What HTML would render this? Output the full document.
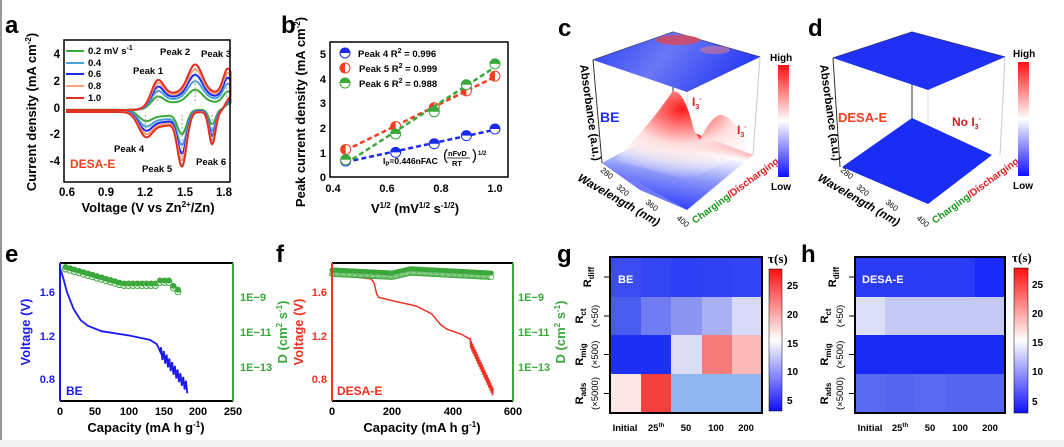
<!DOCTYPE html>
<html><head><meta charset="utf-8"><style>
html,body{margin:0;padding:0;background:#fff;}
svg{display:block;font-family:"Liberation Sans",Arial,sans-serif;font-weight:bold;}
</style></head><body>
<svg id="s" width="1064" height="447" viewBox="0 0 1064 447" xmlns="http://www.w3.org/2000/svg">
<defs>
<linearGradient id="cb" x1="0" y1="1" x2="0" y2="0"><stop offset="0" stop-color="#1010ff"/><stop offset="0.5" stop-color="#ffffff"/><stop offset="1" stop-color="#ff1010"/></linearGradient>
<linearGradient id="tc" x1="0" y1="0" x2="1" y2="0.3"><stop offset="0" stop-color="#2a3cf5"/><stop offset="0.5" stop-color="#6a78f5"/><stop offset="1" stop-color="#2a3cf5"/></linearGradient>
<linearGradient id="bc" x1="0" y1="1" x2="0.3" y2="0"><stop offset="0" stop-color="#0a1cff"/><stop offset="0.5" stop-color="#8a96f8"/><stop offset="0.8" stop-color="#fff"/><stop offset="1" stop-color="#ff2020"/></linearGradient>
<radialGradient id="pk" cx="0.5" cy="0.2" r="0.8"><stop offset="0" stop-color="#ff1a1a"/><stop offset="0.5" stop-color="#ffdede"/><stop offset="1" stop-color="#ffffff" stop-opacity="0"/></radialGradient>
</defs>
<rect x="0" y="0" width="1064" height="447" fill="#fff"/>
<rect x="0" y="0" width="2" height="447" fill="#999"/>
<rect x="0" y="440" width="1064" height="7" fill="#f2f2f2"/>
<g font-size="24" fill="#000"><text x="5" y="33">a</text><text x="281" y="33">b</text><text x="558" y="36">c</text><text x="808" y="36">d</text><text x="5" y="262">e</text><text x="276" y="262">f</text><text x="557" y="262">g</text><text x="801" y="262">h</text></g>
<g id="dyn"></g>

<!-- panel a axes -->
<rect x="64" y="40" width="166" height="142" fill="none" stroke="#000" stroke-width="1.5"/>
<g font-size="11.5" text-anchor="end"><text x="60" y="58">4</text><text x="60" y="85">2</text><text x="60" y="112">0</text><text x="60" y="138">-2</text><text x="60" y="165">-4</text></g>
<g font-size="11.5" text-anchor="middle"><text x="67" y="196">0.6</text><text x="106" y="196">0.9</text><text x="145" y="196">1.2</text><text x="185" y="196">1.5</text><text x="224" y="196">1.8</text></g>
<text x="148" y="212" font-size="13" text-anchor="middle">Voltage (V vs Zn<tspan dy="-5" font-size="8">2+</tspan><tspan dy="5">/Zn)</tspan></text>
<text transform="translate(36,112) rotate(-90)" font-size="13" text-anchor="middle">Current density (mA cm<tspan dy="-5" font-size="8">-2</tspan><tspan dy="5">)</tspan></text>
<g font-size="9.5">
<line x1="66" y1="51" x2="84" y2="51" stroke="#3aa83a" stroke-width="2"/><text x="88" y="54">0.2 mV s<tspan dy="-4" font-size="7">-1</tspan></text>
<line x1="66" y1="63" x2="84" y2="63" stroke="#4aa0d8" stroke-width="2"/><text x="88" y="66">0.4</text>
<line x1="66" y1="74" x2="84" y2="74" stroke="#1a2aee" stroke-width="2"/><text x="88" y="77">0.6</text>
<line x1="66" y1="86" x2="84" y2="86" stroke="#f8a080" stroke-width="2"/><text x="88" y="89">0.8</text>
<line x1="66" y1="98" x2="84" y2="98" stroke="#e03020" stroke-width="2"/><text x="88" y="101">1.0</text>
<text x="133" y="74">Peak 1</text><text x="160" y="55">Peak 2</text><text x="201" y="57">Peak 3</text>
<text x="114" y="152">Peak 4</text><text x="142" y="172">Peak 5</text><text x="196" y="165">Peak 6</text>
</g>
<text x="70" y="168" font-size="12" fill="#f04020">DESA-E</text>

<!-- panel b axes -->
<rect x="330" y="42" width="178" height="135" fill="none" stroke="#000" stroke-width="1.5"/>
<g font-size="11" text-anchor="end"><text x="326" y="58">5</text><text x="326" y="83">4</text><text x="326" y="107">3</text><text x="326" y="132">2</text><text x="326" y="157">1</text><text x="326" y="181">0</text></g>
<g font-size="11" text-anchor="middle"><text x="333" y="192">0.4</text><text x="387" y="192">0.6</text><text x="441" y="192">0.8</text><text x="495" y="192">1.0</text></g>
<text x="415" y="213" font-size="13" text-anchor="middle">V<tspan dy="-5" font-size="8">1/2</tspan><tspan dy="5"> (mV</tspan><tspan dy="-5" font-size="8">1/2</tspan><tspan dy="5"> s</tspan><tspan dy="-5" font-size="8">-1/2</tspan><tspan dy="5">)</tspan></text>
<text transform="translate(305,112) rotate(-90)" font-size="13" text-anchor="middle">Peak current density (mA cm<tspan dy="-5" font-size="8">-2</tspan><tspan dy="5">)</tspan></text>
<g font-size="9.5">
<text x="358" y="57">Peak 4  R<tspan dy="-4" font-size="7">2</tspan><tspan dy="4"> = 0.996</tspan></text>
<text x="359" y="72">Peak 5  R<tspan dy="-4" font-size="7">2</tspan><tspan dy="4"> = 0.999</tspan></text>
<text x="359" y="87">Peak 6  R<tspan dy="-4" font-size="7">2</tspan><tspan dy="4"> = 0.988</tspan></text>
<text x="383" y="164" font-size="8.5">I<tspan font-size="6" dy="2">P</tspan><tspan dy="-2">=0.446nFAC</tspan></text>
<text x="443" y="160" font-size="15" font-weight="normal">(</text><text x="472" y="160" font-size="15" font-weight="normal">)</text>
<text x="448" y="156" font-size="7.5">nFvD</text><line x1="447" y1="158" x2="470" y2="158" stroke="#000" stroke-width="0.8"/><text x="452" y="166" font-size="7.5">RT</text>
<text x="478" y="155" font-size="6">1/2</text>
</g>

<!-- panel c -->
<g>
<polyline points="593,60 673,32 760,57" fill="none" stroke="#333"/>
<line x1="593" y1="60" x2="602" y2="163" stroke="#333"/><line x1="673" y1="32" x2="673" y2="130" stroke="#333"/><line x1="760" y1="57" x2="753" y2="155" stroke="#ccc"/><line x1="687" y1="92" x2="687" y2="210" stroke="#ddd"/>
<polygon points="593,60 673,32 760,57 687,92" fill="url(#tc)"/>
<ellipse cx="678" cy="40" rx="22" ry="5" fill="#f04040" opacity="0.7"/><ellipse cx="715" cy="50" rx="15" ry="4" fill="#f08080" opacity="0.5"/>
<polygon points="602,163 673,125 753,155 687,210" fill="url(#bc)"/>
<path d="M622,152 C640,135 660,110 672,92 C680,88 688,105 694,130 L700,140 C705,128 715,113 722,115 C735,118 745,140 750,153 L687,180 L615,160 Z" fill="url(#pk)"/>
<polygon points="602,163 687,210 640,190" fill="#1020ff" opacity="0.6"/>
<text x="600" y="122" font-size="14" fill="#2030f0">BE</text>
<text x="692" y="106" font-size="12" fill="#e02020">I<tspan font-size="7" dy="3">3</tspan><tspan font-size="7" dy="-8">-</tspan></text>
<text x="737" y="134" font-size="12" fill="#e02020">I<tspan font-size="7" dy="3">3</tspan><tspan font-size="7" dy="-8">-</tspan></text>
<text transform="translate(580,65) rotate(82)" font-size="11.5">Absorbance (a.u.)</text>
<text transform="translate(577,180) rotate(30)" font-size="11.5" font-style="italic">Wavelength (nm)</text>
<g font-size="8" font-weight="normal"><text transform="translate(600,171) rotate(40)">280</text><text transform="translate(616,188) rotate(40)">320</text><text transform="translate(645,203) rotate(40)">360</text><text transform="translate(676,219) rotate(40)">400</text></g>
<text transform="translate(695,224) rotate(-36)" font-size="10"><tspan fill="#1a9a1a">Charging</tspan><tspan fill="#e02020">/Discharging</tspan></text>
<rect x="778" y="65" width="11" height="112" fill="url(#cb)"/>
<text x="770" y="61" font-size="10">High</text><text x="771" y="190" font-size="10">Low</text>
</g>
<!-- panel d -->
<g>
<polyline points="833,58 912,32 1005,57" fill="none" stroke="#333"/>
<line x1="833" y1="58" x2="840" y2="167" stroke="#333"/><line x1="912" y1="32" x2="912" y2="150" stroke="#333"/><line x1="1005" y1="57" x2="1000" y2="155" stroke="#ccc"/><line x1="928" y1="90" x2="928" y2="205" stroke="#ddd"/>
<polygon points="833,58 912,32 1005,57 928,90" fill="#2030f5"/>
<polygon points="842,167 912,118 992,155 928,204" fill="#1a2cf5"/>
<text x="838" y="122" font-size="13" fill="#f04020">DESA-E</text>
<text x="952" y="126" font-size="12" fill="#d02020">No I<tspan font-size="7" dy="3">3</tspan><tspan font-size="7" dy="-8">-</tspan></text>
<text transform="translate(820,65) rotate(82)" font-size="11.5">Absorbance (a.u.)</text>
<text transform="translate(817,180) rotate(30)" font-size="11.5" font-style="italic">Wavelength (nm)</text>
<g font-size="8" font-weight="normal"><text transform="translate(840,171) rotate(40)">280</text><text transform="translate(856,188) rotate(40)">320</text><text transform="translate(885,203) rotate(40)">360</text><text transform="translate(916,219) rotate(40)">400</text></g>
<text transform="translate(935,224) rotate(-36)" font-size="10"><tspan fill="#1a9a1a">Charging</tspan><tspan fill="#e02020">/Discharging</tspan></text>
<rect x="1018" y="62" width="11" height="114" fill="url(#cb)"/>
<text x="1013" y="57" font-size="10">High</text><text x="1013" y="189" font-size="10">Low</text>
</g>

<!-- panel e axes -->
<line x1="60" y1="263" x2="233" y2="263" stroke="#000" stroke-width="2"/>
<line x1="60" y1="401" x2="233" y2="401" stroke="#000" stroke-width="2"/>
<line x1="60" y1="263" x2="60" y2="401" stroke="#1a1af0" stroke-width="2"/>
<line x1="233" y1="263" x2="233" y2="401" stroke="#3aa83a" stroke-width="2"/>
<g font-size="11" text-anchor="end" fill="#1a1af0"><text x="55" y="296">1.6</text><text x="55" y="340">1.2</text><text x="55" y="383">0.8</text></g>
<g font-size="11" text-anchor="middle"><text x="60" y="415">0</text><text x="95" y="415">50</text><text x="129" y="415">100</text><text x="164" y="415">150</text><text x="198" y="415">200</text><text x="233" y="415">250</text></g>
<text x="146" y="432" font-size="13" text-anchor="middle">Capacity (mA h g<tspan dy="-5" font-size="8">-1</tspan><tspan dy="5">)</tspan></text>
<text transform="translate(30,332) rotate(-90)" font-size="13" text-anchor="middle" fill="#1a1af0">Voltage (V)</text>
<g font-size="11" fill="#3aa83a"><text x="240" y="301">1E−9</text><text x="240" y="336">1E−11</text><text x="240" y="371">1E−13</text></g>
<text transform="translate(287,332) rotate(-90)" font-size="13" text-anchor="middle" fill="#3aa83a">D (cm<tspan dy="-5" font-size="8">2</tspan><tspan dy="5"> s</tspan><tspan dy="-5" font-size="8">-1</tspan><tspan dy="5">)</tspan></text>
<text x="66" y="395" font-size="12" fill="#1a1af0">BE</text>

<!-- panel f axes -->
<line x1="332" y1="263" x2="513" y2="263" stroke="#000" stroke-width="2"/>
<line x1="332" y1="401" x2="513" y2="401" stroke="#000" stroke-width="2"/>
<line x1="332" y1="263" x2="332" y2="401" stroke="#f03020" stroke-width="2"/>
<line x1="513" y1="263" x2="513" y2="401" stroke="#3aa83a" stroke-width="2"/>
<g font-size="11" text-anchor="end" fill="#f03020"><text x="327" y="296">1.6</text><text x="327" y="340">1.2</text><text x="327" y="383">0.8</text></g>
<g font-size="11" text-anchor="middle"><text x="332" y="415">0</text><text x="392" y="415">200</text><text x="453" y="415">400</text><text x="513" y="415">600</text></g>
<text x="422" y="432" font-size="13" text-anchor="middle">Capacity (mA h g<tspan dy="-5" font-size="8">-1</tspan><tspan dy="5">)</tspan></text>
<text transform="translate(303,332) rotate(-90)" font-size="13" text-anchor="middle" fill="#f03020">Voltage (V)</text>
<g font-size="11" fill="#3aa83a"><text x="518" y="301">1E−9</text><text x="518" y="336">1E−11</text><text x="518" y="371">1E−13</text></g>
<text transform="translate(565,332) rotate(-90)" font-size="13" text-anchor="middle" fill="#3aa83a">D (cm<tspan dy="-5" font-size="8">2</tspan><tspan dy="5"> s</tspan><tspan dy="-5" font-size="8">-1</tspan><tspan dy="5">)</tspan></text>
<text x="337" y="395" font-size="12" fill="#f03020">DESA-E</text>

<!-- panel g -->
<g id="gh"></g>
<rect x="610" y="257" width="152" height="156" fill="none" stroke="#000" stroke-width="2"/>
<rect x="855" y="257" width="150" height="156" fill="none" stroke="#000" stroke-width="2"/>
<text x="618" y="283" font-size="11" fill="#fff">BE</text>
<text x="862" y="283" font-size="11" fill="#fff">DESA-E</text>
<rect x="769" y="269" width="13" height="142" fill="url(#cb)" stroke="#000" stroke-width="0.5"/>
<rect x="1014" y="268" width="14" height="145" fill="url(#cb)" stroke="#000" stroke-width="0.5"/>
<g font-family="Liberation Serif,serif" font-size="13"><text x="768" y="263">τ(s)</text><text x="1012" y="262">τ(s)</text></g>
<g font-size="10"><text x="787" y="289">25</text><text x="787" y="318">20</text><text x="787" y="347">15</text><text x="787" y="375">10</text><text x="787" y="404">5</text>
<text x="1032" y="288">25</text><text x="1032" y="317">20</text><text x="1032" y="346">15</text><text x="1032" y="375">10</text><text x="1032" y="405">5</text></g>
<g font-size="9.5" text-anchor="middle"><text x="625" y="431">Initial</text><text x="656" y="431">25<tspan dy="-4" font-size="6">th</tspan></text><text x="686" y="431">50</text><text x="716" y="431">100</text><text x="746" y="431">200</text>
<text x="870" y="431">Initial</text><text x="900" y="431">25<tspan dy="-4" font-size="6">th</tspan></text><text x="930" y="431">50</text><text x="960" y="431">100</text><text x="990" y="431">200</text></g>
<g id="rl"></g>
</svg>
<script>
var NS="http://www.w3.org/2000/svg",dyn=document.getElementById("dyn");
function el(t,a,p){var e=document.createElementNS(NS,t);for(var k in a)e.setAttribute(k,a[k]);(p||dyn).appendChild(e);return e;}
function G(a,c,s,v){return a*Math.exp(-(v-c)*(v-c)/(2*s*s));}
function sg(x){return 1/(1+Math.exp(-x));}
var X=function(v){return 67+(v-0.6)*130.8},Y=function(i){return 108-i*13.4};
[[0.2,"#3aa83a"],[0.4,"#4aa0d8"],[0.6,"#1a2aee"],[0.8,"#f8a080"],[1.0,"#e03020"]].forEach(function(q){
 var k=Math.sqrt(q[0]),d="";
 for(var v=0.6;v<=1.85;v+=0.005){var i=0.3*sg((v-1.2)/.03)+1.0*sg((v-1.3)/.04)+G(1.5,1.29,.045,v)+G(2.1,1.58,.055,v)+G(1.8,1.83,.035,v);i=i*k-0.15;d+=(d?"L":"M")+X(v).toFixed(1)+","+Y(i).toFixed(1);}
 for(var v=1.85;v>=0.6;v-=0.005){var i=-0.3+G(-1.7,1.2,.055,v)+G(-1.0,1.35,.08,v)+G(-3.8,1.48,.035,v)+G(-2.4,1.71,.025,v)+1.2*sg((v-1.81)/.015);i=i*k;d+="L"+X(v).toFixed(1)+","+Y(i).toFixed(1);}
 el("path",{d:d+"Z",fill:"none",stroke:q[1],"stroke-width":2});
});
var bx=function(v){return 333+(v-0.4)*270},by=function(i){return 177-i*24.6};
var xs=[0.447,0.632,0.775,0.894,1.0];
[[[0.65,1.0,1.35,1.68,1.95],"#1a2aee"],[[1.12,2.05,2.82,3.5,4.1],"#f04020"],[[0.7,1.75,2.65,3.75,4.6],"#3aa83a"]].forEach(function(q,j){
 var y=q[0],n=5,sx=0,sy=0,sxy=0,sxx=0;for(var i=0;i<n;i++){sx+=xs[i];sy+=y[i];sxy+=xs[i]*y[i];sxx+=xs[i]*xs[i];}
 var m=(n*sxy-sx*sy)/(n*sxx-sx*sx),b=(sy-m*sx)/n;
 el("line",{x1:bx(0.447),y1:by(m*0.447+b),x2:bx(1),y2:by(m+b),stroke:q[1],"stroke-width":2.5,"stroke-dasharray":"5,3"});
 for(var i=0;i<n;i++)dot(bx(xs[i]),by(y[i]),q[1],j);
 dot(345,53+15*j,q[1],j);
});
function dot(x,y,c,j){el("circle",{cx:x,cy:y,r:5,fill:"#fff",stroke:c,"stroke-width":1});
 var d=j==1?"M"+x+","+(y-5)+"A5,5 0 0 0 "+x+","+(y+5)+"Z":"M"+(x-5)+","+y+"A5,5 0 0 1 "+(x+5)+","+y+"Z";
 el("path",{d:d,fill:c});}
[[1.29,1.8],[1.58,3.0],[1.82,2.6],[1.2,-1.9],[1.48,-4.2],[1.71,-2.6]].forEach(function(p){el("line",{x1:X(p[0]),y1:Y(p[1]>0?0.5:-0.5),x2:X(p[0]),y2:Y(p[1]),stroke:"#999","stroke-dasharray":"2,2"});});
function path(pts,fx,fy,c,w){var d="";pts.forEach(function(p){d+=(d?"L":"M")+fx(p[0]).toFixed(1)+","+fy(p[1]).toFixed(1)});el("path",{d:d,fill:"none",stroke:c,"stroke-width":w||1.5});}
var vy=function(v){return 292+(1.6-v)*108.75};
var ex=function(c){return 60+c*0.692};
var pe=[[0,1.82],[5,1.72],[10,1.6],[20,1.44],[30,1.34],[40,1.29],[60,1.24],[100,1.2],[130,1.16],[140,1.12],[145,1.05]];
for(var c=146;c<=185;c+=2){pe.push([c,1.05-(c-145)*0.0085+((c%4)?0.05:-0.05)]);}
path(pe,ex,vy,"#1a1af0",1.8);
for(var c=8;c<=175;c+=6.5){var y=267+ (c<90? (c-8)*0.2:16.5) + (c>140&&c<160?-3:0)+(c>160?(c-160)*0.6:0);
 el("circle",{cx:ex(c),cy:y+2,r:3,fill:"#fff",stroke:"#3aa83a"});el("circle",{cx:ex(c),cy:y,r:3,fill:"#3aa83a"});}
var fx=function(c){return 332+c*0.3017};
var pf=[[0,1.76],[100,1.73],[130,1.72],[140,1.68],[148,1.58],[155,1.55],[200,1.52],[280,1.47],[330,1.4],[360,1.3],[380,1.26],[430,1.21],[455,1.17]];
for(var c=458;c<=535;c+=2){pf.push([c,1.15-(c-455)*0.006+((c%4)?0.04:-0.04)]);}
path(pf,fx,vy,"#f03020",1.5);
for(var c=0;c<=530;c+=4){var y=270+(c<200?c*0.015:c<260?3-(c-200)*0.07:-1.2+(c-260)*0.016);
 el("circle",{cx:fx(c),cy:y+4,r:2.5,fill:"#fff",stroke:"#3aa83a","stroke-width":0.8});el("circle",{cx:fx(c),cy:y,r:2.5,fill:"#3aa83a"});}
var gh=document.getElementById("gh");
var gc=[["#3a4cf2","#3446f3","#2e40f4","#3042f4","#3244f3"],["#4a5cf0","#6f7cf2","#8c96f2","#a9b0f4","#d8dbf8"],["#1f30f6","#1f30f6","#dcdcf5","#f77a7a","#fbb8b8"],["#fde6e6","#f54040","#8fb4ee","#8fb4ee","#8fb4ee"]];
var hc=[["#2a3af5","#2a3af5","#2a3af5","#2a3af5","#1a2af8"],["#dcdff8","#c4c9f5","#c4c9f5","#c4c9f5","#c4c9f5"],["#1a2af5","#1a2af5","#1a2af5","#1a2af5","#1a2af5"],["#5a6af0","#5565f0","#5a6af0","#5565f0","#5565f0"]];
var ry=[257,297,335,374,413],cx=[610,641,671,702,732,762],hx=[855,885,915,945,975,1005];
for(var r=0;r<4;r++)for(var c=0;c<5;c++){
 el("rect",{x:cx[c],y:ry[r],width:cx[c+1]-cx[c]+0.5,height:ry[r+1]-ry[r]+0.5,fill:gc[r][c]},gh);
 el("rect",{x:hx[c],y:ry[r],width:hx[c+1]-hx[c]+0.5,height:ry[r+1]-ry[r]+0.5,fill:hc[r][c]},gh);}
var rl=document.getElementById("rl");
[[583,"R","diff",""],[583,"R","ct","(×50)"],[583,"R","mig","(×500)"],[583,"R","ads","(×5000)"]].forEach(function(q,r){
 [0,245].forEach(function(off){
 var cy=(ry[r]+ry[r+1])/2;
 var t=el("text",{transform:"translate("+(q[0]+off+(q[3]?0:8))+","+cy+") rotate(-90)","font-size":11,"text-anchor":"middle"},rl);
 t.innerHTML='R<tspan font-size="8" dy="3">'+q[2]+'</tspan>';
 if(q[3]){el("text",{transform:"translate("+(q[0]+off+15)+","+cy+") rotate(-90)","font-size":9.5,"text-anchor":"middle","font-weight":"normal"},rl).textContent=q[3];}
 el("line",{x1:604+off,y1:cy,x2:610+off,y2:cy,stroke:"#000"},rl);});
});
</script>
</body></html>
